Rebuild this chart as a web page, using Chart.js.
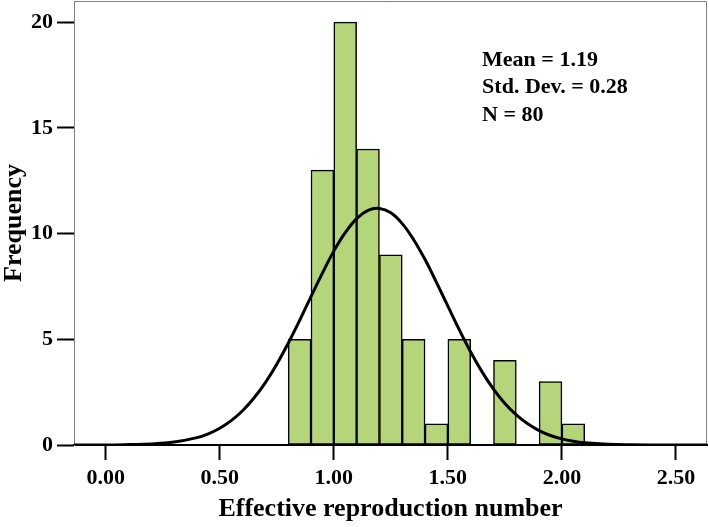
<!DOCTYPE html>
<html>
<head>
<meta charset="utf-8">
<script src="https://cdn.jsdelivr.net/npm/chart.js@4"></script>
<style>
  body { margin: 0; background: #fff; }
</style>
</head>
<body>
<canvas id="hist" width="709" height="527"></canvas>
<script>
// DATA
const binStarts = [0.8, 0.9, 1.0, 1.1, 1.2, 1.3, 1.4, 1.5, 1.6, 1.7, 1.8, 1.9, 2.0];
const counts = [5, 13, 20, 14, 9, 5, 1, 5, 0, 4, 0, 3, 1];
const binWidth = 0.1;

// normal curve
const curveX = [-0.14, -0.10, 0.00, 0.10, 0.20, 0.30, 0.40, 0.45, 0.50, 0.55, 0.60, 0.65, 0.70, 0.75,
  0.80, 0.85, 0.90, 0.95, 1.00, 1.05, 1.10, 1.15, 1.20, 1.25, 1.30, 1.35, 1.40, 1.45, 1.50,
  1.55, 1.60, 1.65, 1.70, 1.75, 1.80, 1.85, 1.90, 1.95, 2.00, 2.05, 2.10, 2.20, 2.30, 2.40, 2.50, 2.64];
const curveY = [0.00, 0.00, 0.00, 0.02, 0.05, 0.14, 0.35, 0.53, 0.79, 1.15, 1.62, 2.22, 2.95, 3.82,
  4.81, 5.89, 7.02, 8.13, 9.17, 10.04, 10.71, 11.10, 11.19, 10.98, 10.47, 9.71, 8.77, 7.69, 6.57,
  5.45, 4.40, 3.46, 2.64, 1.96, 1.42, 1.00, 0.68, 0.45, 0.29, 0.18, 0.11, 0.04, 0.01, 0.00, 0.00, 0.00];

const xTicks = [0, 0.5, 1.0, 1.5, 2.0, 2.5];
const yTicks = [0, 5, 10, 15, 20];
const statLines = ['Mean = 1.19', 'Std. Dev. = 0.28', 'N = 80'];

const FONT = "'Liberation Serif', 'Times New Roman', serif";

const barPoints = binStarts
  .map((b, i) => ({ x: b + binWidth / 2, y: counts[i] }))
  .filter(p => p.y > 0);
const curvePoints = curveX.map((x, i) => ({ x: x, y: curveY[i] }));

// frame (top + right) and stats box
const framePlugin = {
  id: 'frame',
  beforeDatasetsDraw(chart) {
    const a = chart.chartArea;
    const ctx = chart.ctx;
    ctx.save();
    ctx.strokeStyle = '#808080';
    ctx.lineWidth = 1;
    ctx.beginPath();
    ctx.moveTo(a.left, a.top + 0.5);
    ctx.lineTo(a.right - 0.5, a.top + 0.5);
    ctx.lineTo(a.right - 0.5, a.bottom);
    ctx.stroke();
    ctx.restore();
  },
  afterDraw(chart) {
    const ctx = chart.ctx;
    const x = chart.scales.x.getPixelForValue(1.65);
    ctx.save();
    ctx.fillStyle = '#000';
    ctx.font = 'bold 22px ' + FONT;
    ctx.textBaseline = 'alphabetic';
    statLines.forEach((t, i) => ctx.fillText(t, x, chart.chartArea.top + 65 + i * 27.3));
    ctx.restore();
  }
};

new Chart(document.getElementById('hist'), {
  data: {
    datasets: [
      {
        type: 'line',
        data: curvePoints,
        borderColor: '#000',
        borderWidth: 3,
        pointRadius: 0,
        tension: 0.4,
        fill: false,
        order: 0
      },
      {
        type: 'bar',
        data: barPoints,
        backgroundColor: '#b5d57b',
        borderColor: '#000',
        borderWidth: 1.5,
        borderSkipped: false,
        barPercentage: 1,
        categoryPercentage: 1,
        grouped: false,
        order: 1
      }
    ]
  },
  options: {
    responsive: false,
    devicePixelRatio: 1,
    animation: false,
    layout: { padding: { top: 1, right: 2, left: 0, bottom: 0 } },
    plugins: {
      legend: { display: false },
      tooltip: { enabled: false }
    },
    scales: {
      x: {
        type: 'linear',
        offset: false,
        min: -0.139,
        max: 2.636,
        afterBuildTicks: s => { s.ticks = xTicks.map(v => ({ value: v })); },
        afterFit: s => { s.height = 82; s.paddingLeft = 0; s.paddingRight = 0; },
        ticks: {
          callback: v => Number(v).toFixed(2),
          color: '#000',
          font: { family: FONT, size: 22, weight: 'bold' },
          padding: 5,
          maxRotation: 0,
          autoSkip: false
        },
        grid: { offset: false, drawOnChartArea: false, drawTicks: true, tickLength: 15, tickWidth: 2, tickColor: '#000' },
        border: { color: '#000', width: 2 },
        title: {
          display: true,
          text: 'Effective reproduction number',
          color: '#000',
          font: { family: FONT, size: 26, weight: 'bold', lineHeight: 1.1 },
          padding: { top: 0, bottom: 3 }
        }
      },
      y: {
        min: 0,
        max: 21,
        afterFit: s => { s.width = 74; s.paddingTop = 0; s.paddingBottom = 0; },
        afterBuildTicks: s => { s.ticks = yTicks.map(v => ({ value: v })); },
        ticks: {
          color: '#000',
          font: { family: FONT, size: 22, weight: 'bold' },
          padding: 4
        },
        grid: { drawOnChartArea: false, drawTicks: true, tickLength: 17, tickWidth: 2, tickColor: '#000' },
        border: { color: '#808080', width: 1 },
        title: {
          display: true,
          text: 'Frequency',
          color: '#000',
          font: { family: FONT, size: 26, weight: 'bold', lineHeight: 1.1 },
          padding: 0
        }
      }
    }
  },
  plugins: [framePlugin]
});
</script>
</body>
</html>
